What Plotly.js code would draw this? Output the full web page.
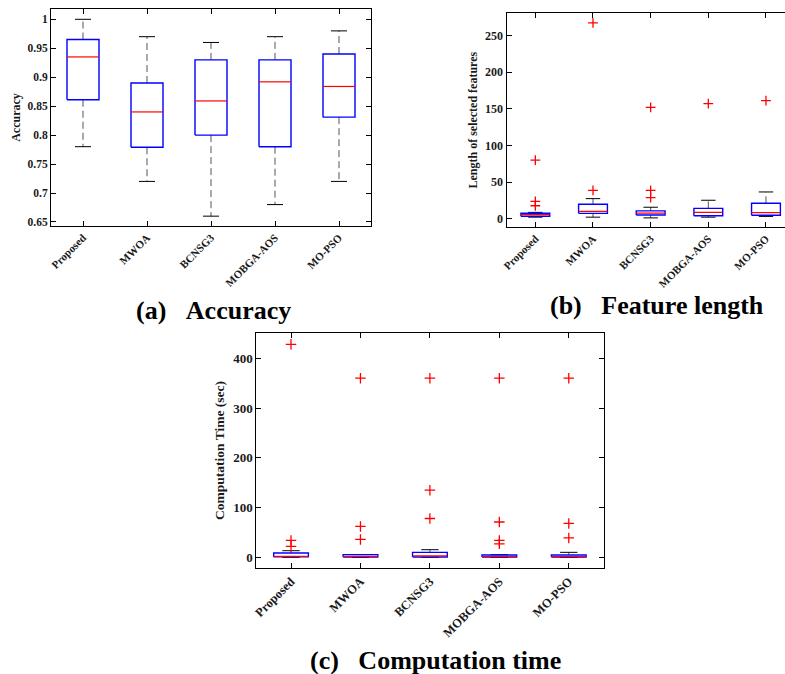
<!DOCTYPE html>
<html>
<head>
<meta charset="utf-8">
<script src="https://cdn.plot.ly/plotly-3.0.1.min.js"></script>
<style>html,body{margin:0;padding:0;background:#fff;}#chart{width:785px;height:674px;}</style>
</head>
<body>
<div id="chart"></div>
<script>
// ---------- data ----------
const categories = ['Proposed', 'MWOA', 'BCNSG3', 'MOBGA-AOS', 'MO-PSO'];

// (a) Accuracy
const accLower  = [0.780, 0.720, 0.660, 0.680, 0.720];
const accQ1     = [0.861, 0.779, 0.800, 0.780, 0.831];
const accMedian = [0.935, 0.840, 0.859, 0.892, 0.884];
const accQ3     = [0.965, 0.890, 0.930, 0.930, 0.940];
const accUpper  = [1.000, 0.970, 0.960, 0.970, 0.980];
const accTickVals = [0.65, 0.7, 0.75, 0.8, 0.85, 0.9, 0.95, 1];
const accTickText = ['0.65', '0.7', '0.75', '0.8', '0.85', '0.9', '0.95', '1'];

// (b) Feature length
const flLower  = [2.5, 2.5, 1.5, 2.5, 3.5];
const flQ1     = [3.8, 7.7, 5.5, 4.5, 5.0];
const flMedian = [6.0, 10.5, 8.0, 9.0, 8.6];
const flQ3     = [7.8, 20.0, 11.0, 14.5, 21.4];
const flUpper  = [9.0, 27.7, 16.0, 25.5, 36.8];
const flOutlierCat = ['Proposed', 'Proposed', 'Proposed', 'MWOA', 'MWOA', 'BCNSG3', 'BCNSG3', 'BCNSG3', 'MOBGA-AOS', 'MO-PSO'];
const flOutlierVal = [80, 24, 18, 39, 267, 39, 29, 152, 157, 161];
const flTickVals = [0, 50, 100, 150, 200, 250];

// (c) Computation time
const ctLower  = [0, 0, 0, 0, 0];
const ctQ1     = [0.8, 0.5, 0.5, 0.5, 0.5];
const ctMedian = [2.0, 2.0, 3.0, 1.3, 1.3];
const ctQ3     = [8.7, 5.3, 10.0, 4.7, 4.7];
const ctUpper  = [13.3, 5.5, 15.3, 5.3, 10.0];
const ctOutlierCat = ['Proposed', 'Proposed', 'Proposed', 'MWOA', 'MWOA', 'MWOA', 'BCNSG3', 'BCNSG3', 'BCNSG3', 'MOBGA-AOS', 'MOBGA-AOS', 'MOBGA-AOS', 'MOBGA-AOS', 'MO-PSO', 'MO-PSO', 'MO-PSO'];
const ctOutlierVal = [428, 34, 22, 360, 62, 36, 360, 135, 78, 360, 71, 34, 27, 360, 68, 39];
const ctTickVals = [0, 100, 200, 300, 400];

// ---------- drawing helpers ----------
const BOX_HALF = 0.25, CAP_HALF = 0.125;
const serif = 'Liberation Serif, Times New Roman, serif';
const txtColor = '#1a1a1a';

function boxTraces(lower, q1, med, q3, upper, outCat, outVal, xa, ya, msize) {
  const bx = [], by = [], mx = [], my = [], wx = [], wy = [], cx = [], cy = [];
  categories.forEach((c, i) => {
    const x = i + 1;
    bx.push(x - BOX_HALF, x + BOX_HALF, x + BOX_HALF, x - BOX_HALF, x - BOX_HALF, null);
    by.push(q1[i], q1[i], q3[i], q3[i], q1[i], null);
    mx.push(x - BOX_HALF, x + BOX_HALF, null);
    my.push(med[i], med[i], null);
    wx.push(x, x, null, x, x, null);
    wy.push(q3[i], upper[i], null, q1[i], lower[i], null);
    cx.push(x - CAP_HALF, x + CAP_HALF, null, x - CAP_HALF, x + CAP_HALF, null);
    cy.push(upper[i], upper[i], null, lower[i], lower[i], null);
  });
  const common = {xaxis: xa, yaxis: ya, mode: 'lines', hoverinfo: 'skip', showlegend: false, type: 'scatter'};
  const tr = [
    Object.assign({x: wx, y: wy, line: {color: '#555', width: 1, dash: '7px,4px'}}, common),
    Object.assign({x: cx, y: cy, line: {color: '#000', width: 1}}, common),
    Object.assign({x: bx, y: by, line: {color: '#0000ff', width: 1.4}}, common),
    Object.assign({x: mx, y: my, line: {color: '#ff0000', width: 1.2}}, common)
  ];
  if (outCat) {
    tr.push({
      type: 'scatter', mode: 'markers', xaxis: xa, yaxis: ya, showlegend: false, hoverinfo: 'skip',
      x: outCat.map(c => categories.indexOf(c) + 1), y: outVal,
      marker: {symbol: 'cross-thin', size: msize, line: {color: '#ff0000', width: 1.3}}
    });
  }
  return tr;
}

const data = []
  .concat(boxTraces(accLower, accQ1, accMedian, accQ3, accUpper, null, null, 'x', 'y', 7))
  .concat(boxTraces(flLower, flQ1, flMedian, flQ3, flUpper, flOutlierCat, flOutlierVal, 'x2', 'y2', 7))
  .concat(boxTraces(ctLower, ctQ1, ctMedian, ctQ3, ctUpper, ctOutlierCat, ctOutlierVal, 'x3', 'y3', 7.5));

const W = 785, H = 674;
function xdom(l, r) { return [l / W, Math.min(1, r / W)]; }
function ydom(top, bottom) { return [(H - bottom) / H, (H - top) / H]; }

function xAxis(anchor, dom, range, size) {
  return {
    anchor: anchor, domain: dom, range: range, tickvals: categories.map((c, i) => i + 1), ticktext: categories,
    tickangle: -45, ticks: 'inside', ticklen: 5, tickcolor: '#000', showline: true, mirror: 'ticks',
    linecolor: '#000', linewidth: 1, showgrid: false, zeroline: false, fixedrange: true,
    tickfont: {family: serif, size: size, weight: 'bold', color: txtColor}
  };
}
function yAxis(anchor, dom, range, tv, tt, title, size, tsize, standoff, mirror) {
  return {
    anchor: anchor, domain: dom, range: range, tickvals: tv, ticktext: tt, ticks: 'inside', ticklen: 5, tickcolor: '#000',
    showline: true, mirror: mirror, linecolor: '#000', linewidth: 1, showgrid: false, zeroline: false,
    fixedrange: true, tickfont: {family: serif, size: size, weight: 'bold', color: txtColor},
    title: {text: title, standoff: standoff, font: {family: serif, size: tsize, weight: 'bold', color: txtColor}}
  };
}

const layout = {
  width: W, height: H, margin: {l: 0, r: 0, t: 0, b: 0}, paper_bgcolor: '#fff', plot_bgcolor: '#fff',
  showlegend: false,
  xaxis: xAxis('y', xdom(51, 371), [0.5, 5.5], 11),
  yaxis: yAxis('x', ydom(9, 226), [0.643, 1.0178], accTickVals, accTickText, 'Accuracy', 11.5, 12, 4, 'ticks'),
  xaxis2: xAxis('y2', xdom(506.5, 785), [0.5, 5.33], 11),
  yaxis2: yAxis('x2', ydom(13.3, 227), [-10.9, 280], flTickVals, flTickVals.map(String), 'Length of selected features', 12, 12, 4, false),
  xaxis3: xAxis('y3', xdom(256.3, 603.5), [0.5, 5.5], 12.5),
  yaxis3: yAxis('x3', ydom(332.7, 568.3), [-22.1, 451.4], ctTickVals, ctTickVals.map(String), 'Computation Time (sec)', 13, 13.5, 5, 'ticks'),
  annotations: [
    {text: '(a)\u00a0\u00a0\u00a0Accuracy', x: 213 / W, y: (H - 310) / H},
    {text: '(b)\u00a0\u00a0\u00a0Feature length', x: 657 / W, y: (H - 305) / H},
    {text: '(c)\u00a0\u00a0\u00a0Computation time', x: 435 / W, y: (H - 660) / H}
  ].map(a => Object.assign({xref: 'paper', yref: 'paper', xanchor: 'center', yanchor: 'middle', showarrow: false,
    font: {family: serif, size: 26, weight: 'bold', color: '#000'}}, a))
};

Plotly.newPlot('chart', data, layout, {staticPlot: true, displayModeBar: false});
</script>
</body>
</html>
